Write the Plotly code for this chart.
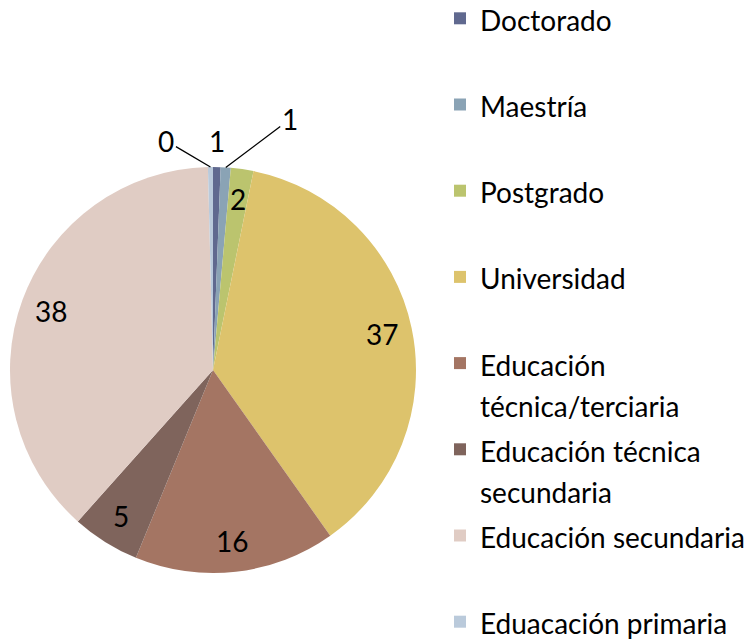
import math
import plotly.graph_objects as go

categories = ["Doctorado", "Maestría", "Postgrado", "Universidad",
              "Educación técnica/terciaria", "Educación técnica secundaria",
              "Educación secundaria", "Eduacación primaria"]
values = [0.6, 0.8, 1.8, 37, 16, 5.4, 38, 0.4]
legend_lines = [["Doctorado"], ["Maestría"], ["Postgrado"], ["Universidad"],
                ["Educación", "técnica/terciaria"], ["Educación técnica", "secundaria"],
                ["Educación secundaria"], ["Eduacación primaria"]]
colors = ["#60698F", "#8AA3B5", "#BBC46E", "#DDC36C",
          "#A47563", "#7F645C", "#E0CCC4", "#BACADB"]

W, H = 754, 639
FONT = "Lato"
TS = 28          # visible text size
LEG_LINE = 32    # legend base size (sets line spacing)


def legend_label(lines, last):
    parts = [f"<span style='font-size:{TS}px'>{t}</span>" for t in lines]
    if len(parts) == 1 and not last:
        parts.append(" ")
    return "<br>".join(parts)


legend_text = [legend_label(l, i == len(legend_lines) - 1)
               for i, l in enumerate(legend_lines)]

# pie domain in pixels (left, right, top, bottom)
px_l, px_r, px_t, px_b = 10, 416, 167, 573
dom_x = [px_l / W, px_r / W]
dom_y = [1 - px_b / H, 1 - px_t / H]
cx, cy = (px_l + px_r) / 2, (px_t + px_b) / 2
R = (px_r - px_l) / 2

fig = go.Figure(go.Pie(
    labels=legend_text,
    values=values,
    hovertext=categories,
    hoverinfo="text+value",
    sort=False,
    direction="clockwise",
    rotation=0,
    marker=dict(colors=colors, line=dict(width=0)),
    textinfo="none",
    domain=dict(x=dom_x, y=dom_y),
    showlegend=True,
))

# value labels placed from the data (slice mid-angle)
total = sum(values)
leader = {1: (64, -48), 7: (-44, -26)}   # thin slices with leader lines
above = {0: -26}                           # thin slice labelled just above
cum = 0
annotations = []
for i, v in enumerate(values):
    mid = 2 * math.pi * (cum + v / 2) / total
    cum += v
    txt = f"{v:.0f}"
    font = dict(family=FONT, size=TS, color="black")
    ex = cx + R * math.sin(mid)
    ey = cy - R * math.cos(mid)
    if i in leader:
        dx, dy = leader[i]
        annotations.append(dict(
            x=ex / W, y=1 - ey / H, xref="paper", yref="paper",
            text=txt, showarrow=True, ax=dx, ay=dy,
            arrowhead=0, arrowwidth=1.3, arrowcolor="black", standoff=0,
            font=font))
    else:
        if i in above:
            lx, ly = ex, ey + above[i]
        else:
            lx = cx + 0.85 * R * math.sin(mid)
            ly = cy - 0.85 * R * math.cos(mid)
        annotations.append(dict(
            x=lx / W, y=1 - ly / H, xref="paper", yref="paper",
            xanchor="center", yanchor="middle",
            text=txt, showarrow=False, font=font))

fig.update_layout(
    width=W, height=H,
    margin=dict(l=0, r=0, t=0, b=0, autoexpand=False),
    paper_bgcolor="white",
    plot_bgcolor="white",
    font=dict(family=FONT, color="black"),
    annotations=annotations,
    legend=dict(
        x=440 / W, xanchor="left",
        y=1 + 9 / H, yanchor="top",
        valign="top",
        font=dict(family=FONT, size=LEG_LINE, color="black"),
        bgcolor="rgba(0,0,0,0)",
        traceorder="normal",
    ),
)
try:
    fig.update_layout(legend_maxheight=900)
except Exception:
    pass

fig.write_html("out.html",
               config={"displayModeBar": False},
               post_script="document.body.style.margin='0';")
